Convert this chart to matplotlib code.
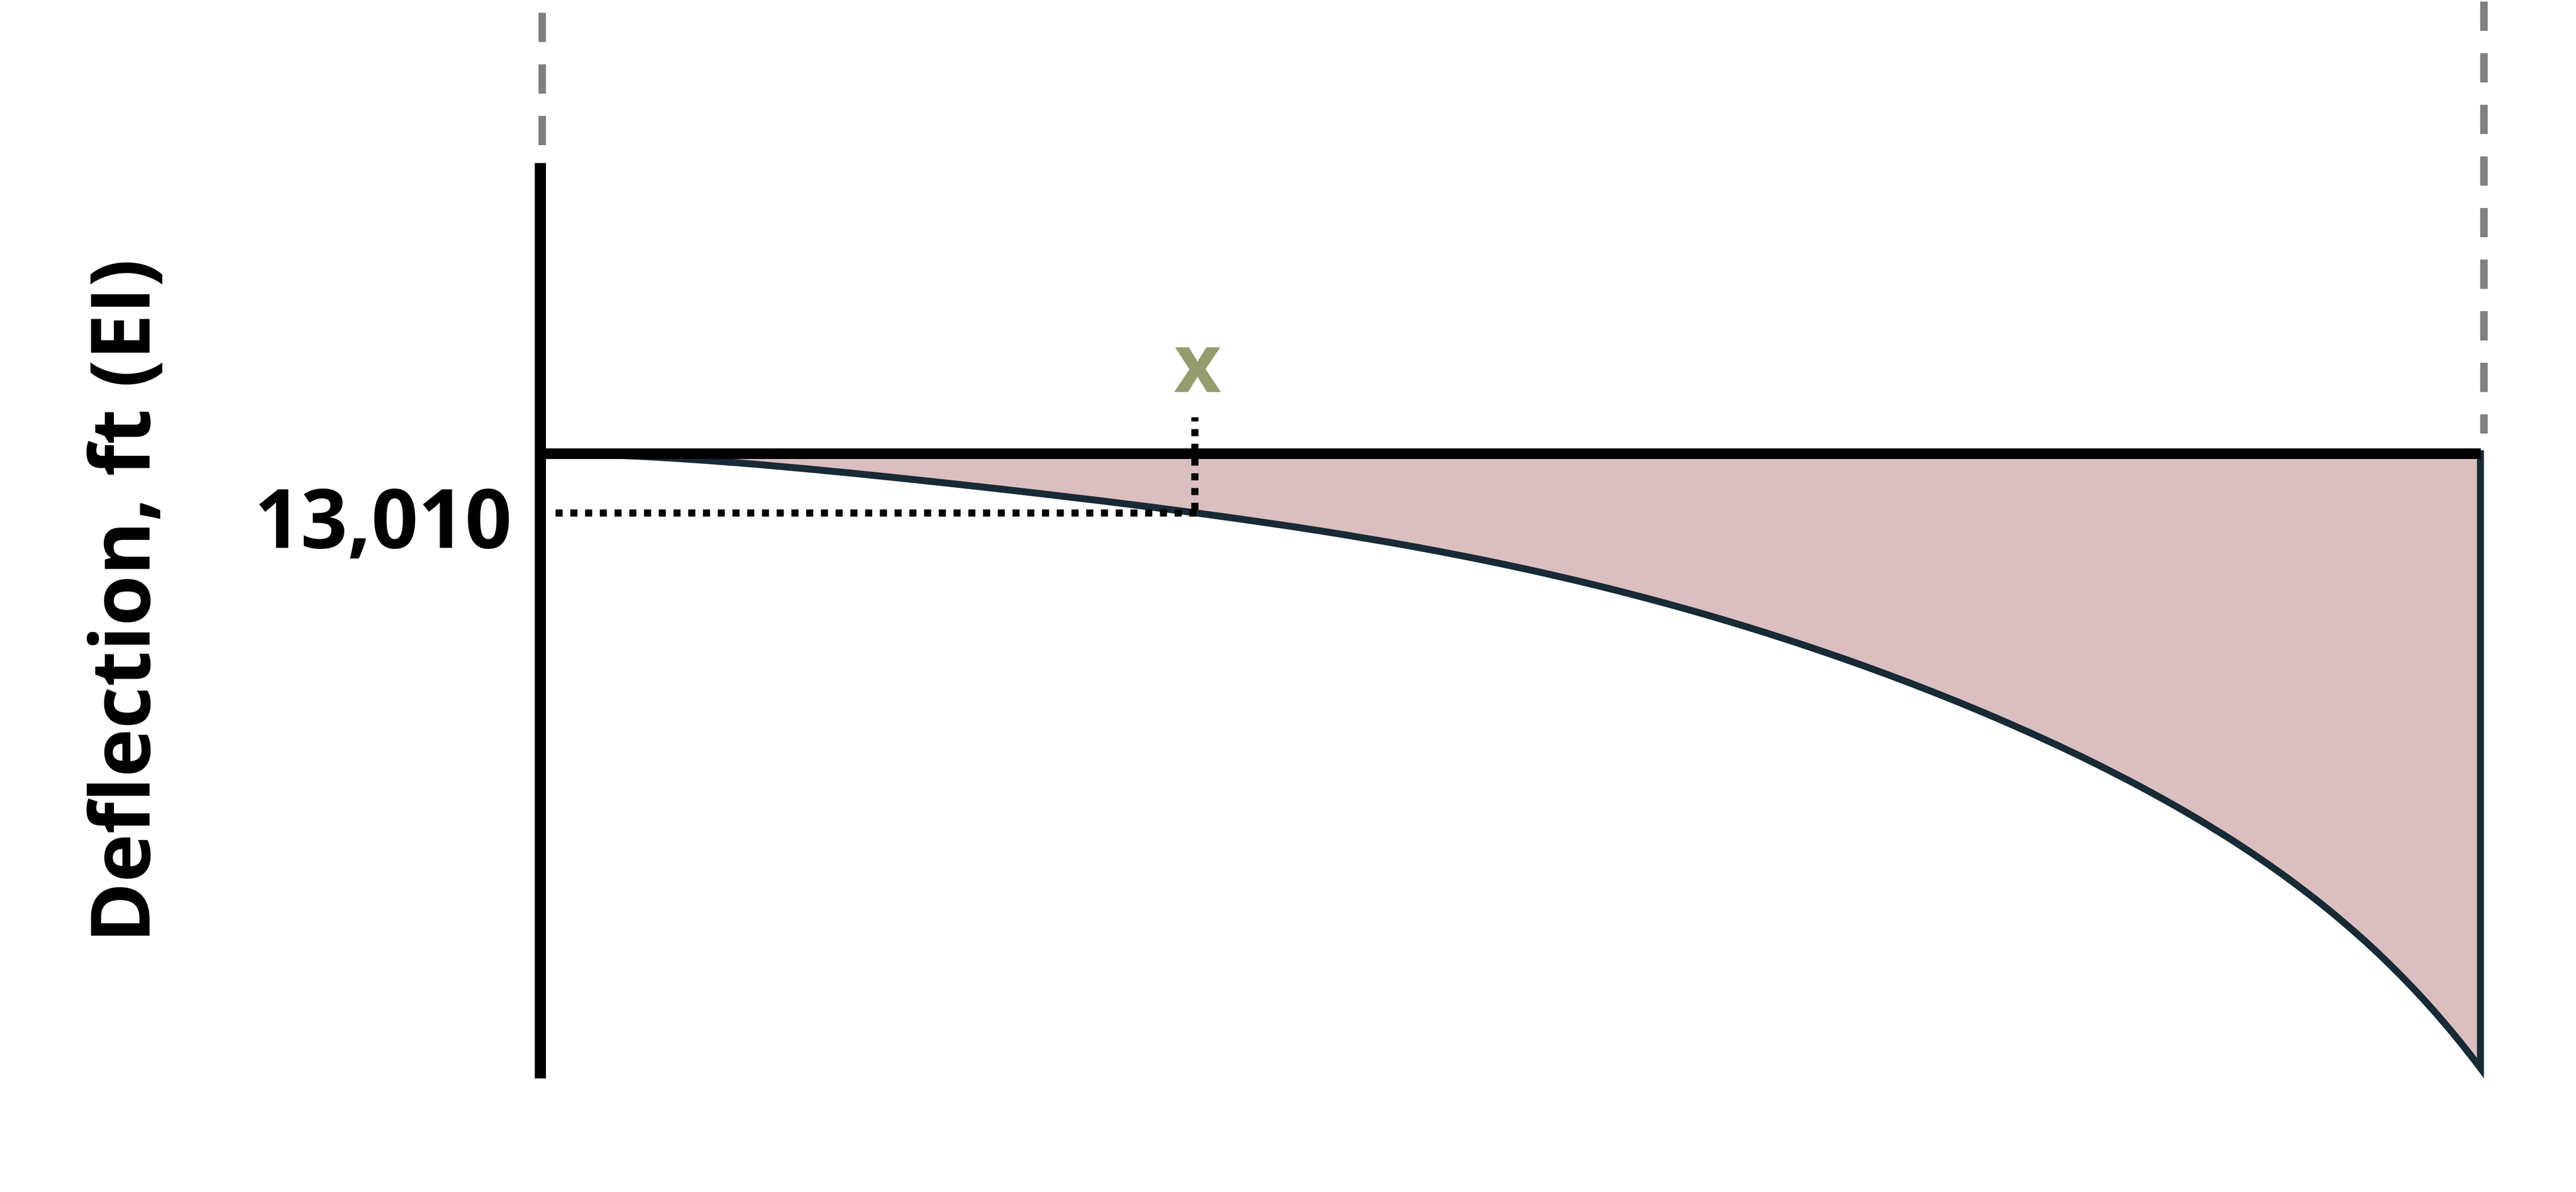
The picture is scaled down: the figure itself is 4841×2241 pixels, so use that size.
import numpy as np
import matplotlib
matplotlib.use("Agg")
import matplotlib.pyplot as plt
from matplotlib.path import Path
from matplotlib.patches import PathPatch

# ---------------- data ----------------
position_ft = [0.0, 1.5, 3.0, 4.5, 6.0, 7.5, 9.0, 10.5, 12.0, 13.5, 15.0,
               16.5, 18.0, 19.5, 21.0, 22.5, 24.0, 24.75, 25.5, 26.25, 27.0,
               27.75, 28.5, 29.25, 29.625, 30.0]
deflection = [0, -560, -1950, -3850, -6040, -8410, -10960, -13750, -16870, -20470,
              -24680, -29620, -35370, -42000, -49560, -58150, -67950, -73440,
              -79410, -85990, -93340, -101650, -111190, -122300, -128560, -135370]
marker_x_ft = 10.12
marker_deflection = -13010
deflection_label = "13,010"
marker_label = "x"
axis_label = "Deflection, ft (EI)"

# ---------------- layout ----------------
W, H, DPI = 4841, 2241, 100
X0_PX, PX_PER_FT = 1015.5, 121.53     # wall position and horizontal scale
Y0_PX, UNITS_PER_PX = 853.0, 117.207  # beam level and vertical scale


def v_of_px(py):
    return (Y0_PX - py) * UNITS_PER_PX


def ft_of_px(px):
    return (px - X0_PX) / PX_PER_FT


PT = 72.0 / DPI  # points per pixel

FILL = "#DBBFC0"
EDGE = "#172A36"
GREY = "#808080"
GREEN = "#969C6D"
FONT = dict(family=["Open Sans", "DejaVu Sans"], fontweight="bold", fontsize=111)

fig = plt.figure(figsize=(W / DPI, H / DPI), dpi=DPI)
ax = fig.add_axes([0, 0, 1, 1])
ax.set_xlim(ft_of_px(0), ft_of_px(W))
ax.set_ylim(v_of_px(H), v_of_px(0))
ax.axis("off")

# ---------------- deflected shape (smooth Bezier through the read points) ----------------
x = np.asarray(position_ft, float)
y = np.asarray(deflection, float)
h = np.diff(x)
d = np.diff(y) / h
m = np.empty_like(x)
m[0] = 0.0
m[1:-1] = (h[:-1] * d[1:] + h[1:] * d[:-1]) / (h[:-1] + h[1:])
m[-1] = d[-1] + h[-1] * (d[-1] - d[-2]) / (h[-1] + h[-2])

verts = [(x[0], y[0])]
codes = [Path.MOVETO]
for i in range(len(x) - 1):
    verts += [(x[i] + h[i] / 3, y[i] + m[i] * h[i] / 3),
              (x[i + 1] - h[i] / 3, y[i + 1] - m[i + 1] * h[i] / 3),
              (x[i + 1], y[i + 1])]
    codes += [Path.CURVE4] * 3
verts += [(x[-1], 0.0), (x[0], 0.0), (x[0], 0.0)]
codes += [Path.LINETO, Path.LINETO, Path.CLOSEPOLY]

patch = PathPatch(Path(verts, codes), facecolor=FILL, edgecolor=EDGE,
                  linewidth=13 * PT, joinstyle="miter", zorder=1)
ax.add_patch(patch)

# ---------------- beam and wall ----------------
ax.plot([x[0], ft_of_px(4662)], [0, 0], color="black", lw=20 * PT,
        solid_capstyle="butt", zorder=3)
ax.plot([0, 0], [v_of_px(306), v_of_px(2027)], color="black", lw=21 * PT,
        solid_capstyle="butt", zorder=3)

# ---------------- grey dashed guides ----------------
gl = 14 * PT
ax.plot([ft_of_px(1019), ft_of_px(1019)], [v_of_px(24), v_of_px(273)], color=GREY,
        lw=gl, dashes=(55 / 14, 42 / 14), dash_capstyle="butt", zorder=2)
ax.plot([ft_of_px(4668), ft_of_px(4668)], [v_of_px(3), v_of_px(815)], color=GREY,
        lw=gl, dashes=(55 / 14, 42 / 14), dash_capstyle="butt", zorder=2)

# ---------------- dotted marker lines ----------------
dl = 13.5 * PT
dots = (13.3 / 13.5, 14.4 / 13.5)
ax.plot([marker_x_ft, marker_x_ft], [v_of_px(958), v_of_px(784)], color="black",
        lw=dl, dashes=dots, dash_capstyle="butt", zorder=4)
ax.plot([ft_of_px(2248), ft_of_px(1036)], [marker_deflection, marker_deflection],
        color="black", lw=dl, dashes=dots, dash_capstyle="butt", zorder=4)

# ---------------- texts ----------------
ax.text(ft_of_px(2250), v_of_px(737), marker_label, color=GREEN, ha="center",
        va="baseline", **FONT)
ax.text(ft_of_px(963), v_of_px(1030), deflection_label, color="black", ha="right",
        va="baseline", **FONT)
ax.text(ft_of_px(282), v_of_px(1129), axis_label, color="black", rotation=90,
        rotation_mode="anchor", ha="center", va="baseline", **FONT)

fig.savefig("out.png", dpi=DPI, facecolor="white")
